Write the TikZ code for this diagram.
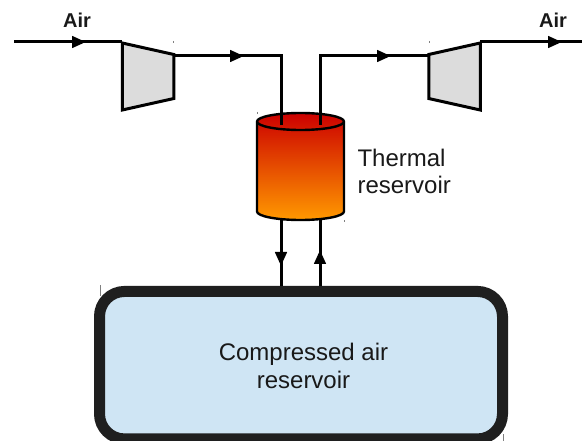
\documentclass[tikz,border=0pt]{standalone}
\usepackage{fontspec}
\setmainfont{Liberation Sans}
\usetikzlibrary{shapes.geometric,arrows.meta}
\definecolor{machine}{HTML}{DCDCDC}
\definecolor{airblue}{HTML}{CFE5F4}
\definecolor{wallgray}{HTML}{1F1F1F}
\definecolor{hotred}{HTML}{CC0000}
\definecolor{hotorange}{HTML}{FF9900}
\begin{document}
\begin{tikzpicture}[
    x=1pt, y=-1pt,
    every node/.style={font=\fontsize{24}{27.6}\selectfont, align=center, text=black!90},
    turbo/.style={trapezium, draw=black, line width=3pt, fill=machine, outer sep=0pt, inner sep=1pt,
        trapezium angle=75.4, minimum width=67pt, minimum height=51.5pt, trapezium stretches=true},
    hot/.style={draw=black, line width=2.4pt, top color=hotred, bottom color=hotorange},
    rim/.style={draw=black, line width=2.4pt},
    tank/.style={rectangle, draw=wallgray, line width=11pt, fill=airblue, rounded corners=25pt, outer sep=0pt,
        minimum width=403pt, minimum height=147.5pt},
    pipe/.style={line width=3pt, black},
    arr/.style={pipe, -{Triangle[length=14pt,width=11.5pt]}},
    lab/.style={font=\fontsize{20}{24}\selectfont\bfseries},
    speck/.style={gray, line width=0.8pt}
]
\useasboundingbox (0,0) rectangle (582,441);

% Compressed air reservoir (bottom)
\node[tank] (tank) at (301,365.2) {};
\node (tanklab) at (303.5,366) {Compressed air\\reservoir};

% Connectors behind the heat store
\coordinate (airin) at (14,42);
\coordinate (inhead) at (86,42);
\coordinate (lefthead) at (244,56);
\coordinate (leftbend) at (281,56);
\coordinate (leftend) at (281,125);
\coordinate (rightend) at (320,125);
\coordinate (rightbend) at (320,56);
\coordinate (righthead) at (391,56);
\coordinate (outhead) at (562,42);
\coordinate (airout) at (582,42);
\coordinate (downtop) at (281,220);
\coordinate (downhead) at (281,266);
\coordinate (downend) at (281,286);
\coordinate (upend) at (320,286);
\coordinate (uphead) at (320,250);
\coordinate (uptop) at (320,220);

% Thermal reservoir (middle)
\path[hot] (257,121.5) arc[start angle=180, end angle=0, x radius=43.5pt, y radius=8.5pt]
    -- (344,211.5) arc[start angle=0, end angle=-180, x radius=43.5pt, y radius=8.5pt] -- cycle;
\path[rim] (257,121.5) arc[start angle=180, end angle=360, x radius=43.5pt, y radius=8.5pt];
\node[anchor=west, align=left] (storelab) at (354,171.5) {Thermal\\reservoir};

% Compressor (left) and turbine (right)
\node[turbo, shape border rotate=270] (comp) at (148,76.5) {};
\node[turbo, shape border rotate=90] (turb) at (454.5,76.5) {};

% Air in and out
\node[lab] (airleft) at (77,20) {Air};
\node[lab] (airright) at (553,20) {Air};

\draw[pipe] (airin) -- (airin -| comp.bottom left corner);
\draw[arr] (airin) -- (inhead);
\draw[pipe] (leftbend -| comp.top left corner) -- (leftbend) -- (leftend);
\draw[arr] (leftbend -| comp.top left corner) -- (lefthead);
\draw[pipe] (rightend) -- (rightbend) -- (rightbend -| turb.top right corner);
\draw[arr] (rightbend) -- (righthead);
\draw[pipe] (airout -| turb.bottom right corner) -- (airout);
\draw[arr] (airout -| turb.bottom right corner) -- (outhead);

% Between the stores
\draw[pipe] (downtop) -- (downend);
\draw[arr] (downtop) -- (downhead);
\draw[pipe] (upend) -- (uptop);
\draw[arr] (upend) -- (uphead);

% Stray ticks
\draw[speck] (173.5,41) -- (173.5,43);
\draw[speck] (429,41) -- (429,43);
\draw[speck] (257,112) -- (257,114);
\draw[speck] (344,220) -- (344,222);
\draw[speck] (100,285.5) -- (100,296);
\draw[speck] (503,434) -- (503,441);
\end{tikzpicture}
\end{document}
